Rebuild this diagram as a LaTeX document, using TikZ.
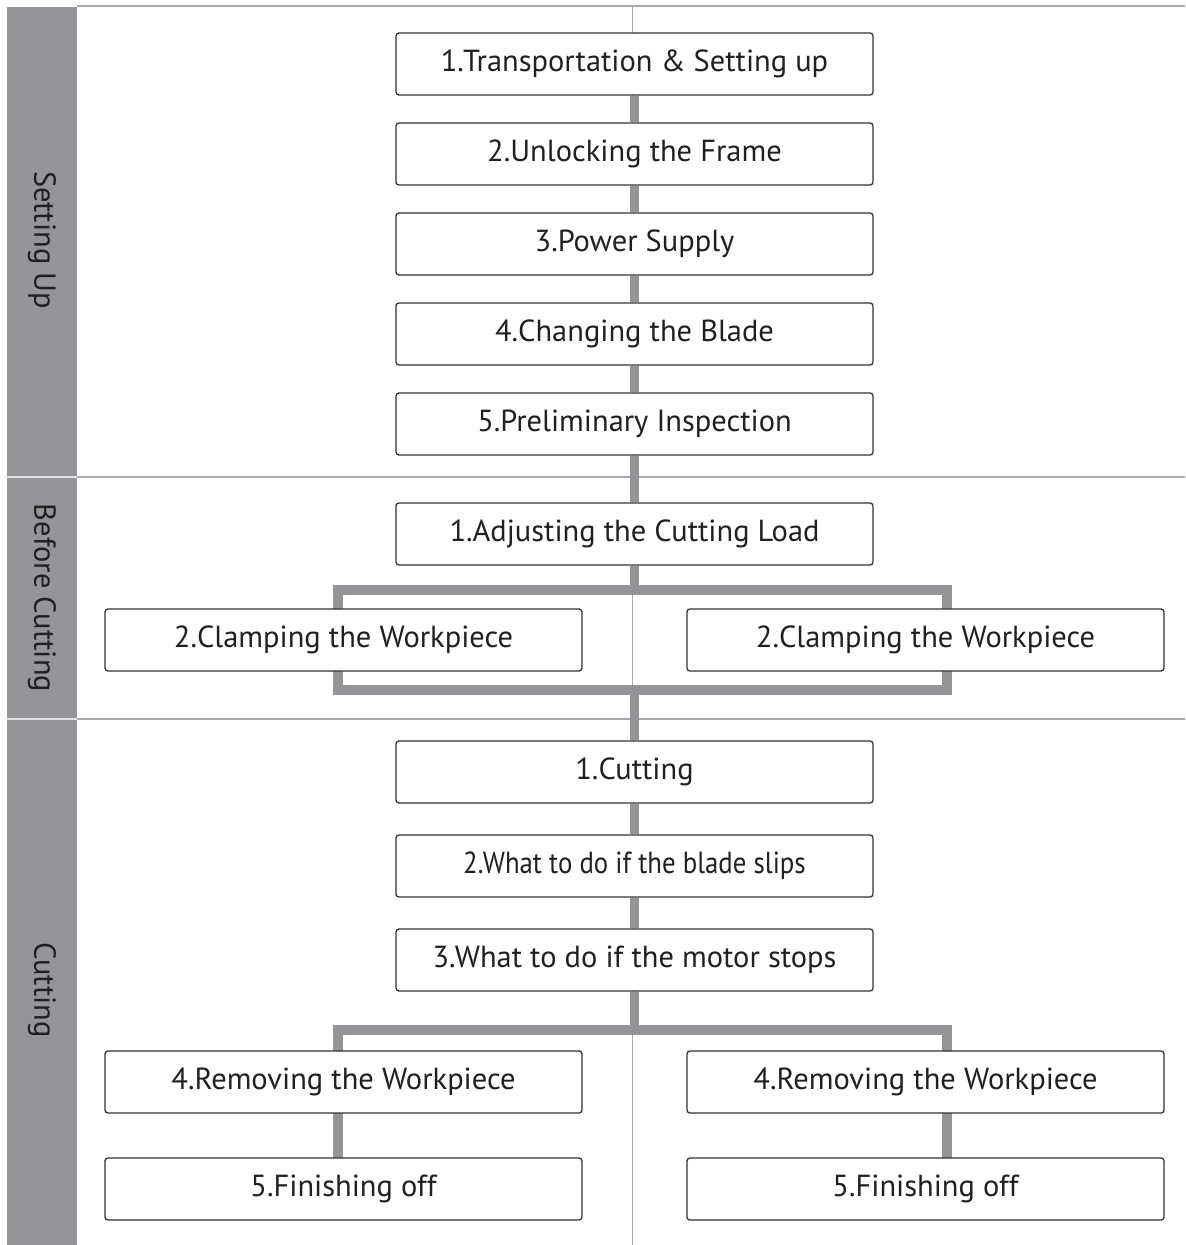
\documentclass[tikz,border=0pt]{standalone}
\usepackage{fontspec}
\setmainfont{PT Sans}
\usepackage{graphicx}
\usetikzlibrary{backgrounds}
\definecolor{bandgray}{HTML}{939598}
\definecolor{linegray}{HTML}{A7A9AC}
\definecolor{boxline}{HTML}{333333}
\definecolor{textdark}{HTML}{231F20}
\tikzset{
	stepbox/.style={draw=boxline, line width=1.1pt, rounded corners=2.5pt, fill=white,
		minimum width=14.31cm, minimum height=1.86cm, inner sep=0pt,
		text=textdark, font=\fontsize{26}{30}\selectfont},
	bandlabel/.style={rotate=-90, text=textdark, font=\fontsize{26}{30}\selectfont},
	stem/.style={draw=bandgray, line width=8.5pt},
	sepline/.style={draw=linegray, line width=1.6pt}
}

\begin{document}
\begin{tikzpicture}[x=0.03cm, y=-0.03cm]
		%%%%% START %%%%%
		\useasboundingbox (0,0) rectangle (1185,1245);
		
		% setting up
		\node[stepbox] (s1) at (634.5, 64) {1.Transportation \& Setting up};
		\node[stepbox] (s2) at (634.5, 154) {2.Unlocking the Frame};
		\node[stepbox] (s3) at (634.5, 244) {3.Power Supply};
		\node[stepbox] (s4) at (634.5, 334) {4.Changing the Blade};
		\node[stepbox] (s5) at (634.5, 424) {5.Preliminary Inspection};
		
		% before cutting
		\node[stepbox] (b1) at (634.5, 534) {1.Adjusting the Cutting Load};
		\node[stepbox] (b2l) at (343.5, 640) {2.Clamping the Workpiece};
		\node[stepbox] (b2r) at (925.5, 640) {2.Clamping the Workpiece};
		
		% cutting
		\node[stepbox] (c1) at (634.5, 772) {1.Cutting};
		\node[stepbox] (c2) at (634.5, 866) {\scalebox{0.88}[1]{2.What to do if the blade slips}};
		\node[stepbox] (c3) at (634.5, 960) {3.What to do if the motor stops};
		\node[stepbox] (c4l) at (343.5, 1082) {4.Removing the Workpiece};
		\node[stepbox] (c4r) at (925.5, 1082) {4.Removing the Workpiece};
		\node[stepbox] (c5l) at (343.5, 1189) {5.Finishing off};
		\node[stepbox] (c5r) at (925.5, 1189) {5.Finishing off};
		
		\node[bandlabel] (lblSetup) at (42, 240) {Setting Up};
		\node[bandlabel] (lblBefore) at (42, 598) {Before Cutting};
		\node[bandlabel] (lblCut) at (42, 990) {Cutting};
		
		\coordinate (bTL) at (338, 590);
		\coordinate (bBR) at (947, 690);
		\coordinate (cFork) at (634.5, 1030);
		\coordinate (cForkL) at (338, 1030);
		\coordinate (cForkR) at (947, 1030);
		
		\begin{scope}[on background layer]
		\fill[bandgray] (7, 7) rectangle (77, 1245);
		\draw[sepline] (77, 6) -- (1185, 6);
		\draw[linegray, line width=0.8pt] (632, 6) -- (632, 1245);
		\draw[sepline] (77, 477) -- (1185, 477);
		\draw[sepline] (77, 719) -- (1185, 719);
		\draw[white!75!bandgray, line width=1.6pt] (7, 477) -- (77, 477);
		\draw[white!75!bandgray, line width=1.6pt] (7, 719) -- (77, 719);
		
		\draw[stem] (s1) -- (s2);
		\draw[stem] (s2) -- (s3);
		\draw[stem] (s3) -- (s4);
		\draw[stem] (s4) -- (s5);
		\draw[stem] (s5) -- (b1);
		\draw[stem] (b1) -- (b1 |- bTL);
		\draw[stem] (bTL) rectangle (bBR);
		\draw[stem] (c1 |- bBR) -- (c1);
		\draw[stem] (c1) -- (c2);
		\draw[stem] (c2) -- (c3);
		\draw[stem] (c3) -- (cFork);
		\draw[stem] (cForkL |- c5l) -- (cForkL) -- (cForkR) -- (cForkR |- c5r);
		\end{scope}
		
		%%%%% END %%%%%
\end{tikzpicture}
\end{document}
